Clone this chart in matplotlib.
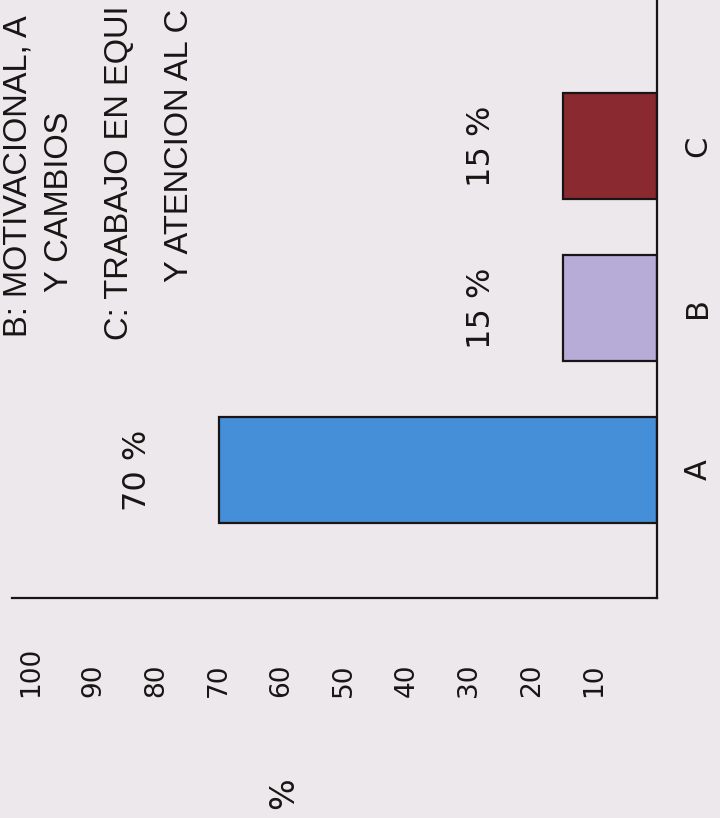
import matplotlib
matplotlib.use("Agg")
import matplotlib.pyplot as plt

# data (the scanned chart is rotated 90 degrees, so it is drawn as barh)
categories = ["A", "B", "C"]
values = [70, 15, 15]
colors = ["#458ed8", "#b7acd8", "#8a2a30"]
ticks = [10, 20, 30, 40, 50, 60, 70, 80, 90, 100]
# only the part of each legend line that the scan shows
legend_lines = ["B: MOTIVACIONAL, A", "Y CAMBIOS",
                "C: TRABAJO EN EQUI", "Y ATENCION AL C"]

bg = "#ece8eb"
ink = "#1a1414"
W, H = 720, 818

fig = plt.figure(figsize=(7.2, 8.18), dpi=100, facecolor=bg)
ax = fig.add_axes([12 / W, 1 - 598 / H, (657 - 12) / W, 598 / H])
ax.set_facecolor(bg)

pos = list(range(len(categories)))
ax.barh(pos, values, height=0.655, color=colors, edgecolor=ink, linewidth=1.6)

ax.set_xlim(103, 0)
ax.set_ylim(-0.79, 2.90)

for s in ["top", "left"]:
    ax.spines[s].set_visible(False)
for s in ["bottom", "right"]:
    ax.spines[s].set_linewidth(1.6)
    ax.spines[s].set_color(ink)

ax.set_xticks(ticks)
ax.set_xticklabels([str(t) for t in ticks], rotation=90, fontsize=19,
                   va="bottom", ha="center", color=ink)
ax.tick_params(axis="x", length=0, pad=71)

ax.yaxis.tick_right()
ax.set_yticks(pos)
ax.set_yticklabels(categories, rotation=90, fontsize=22, color=ink)
ax.tick_params(axis="y", length=0, pad=19)
for lab in ax.get_yticklabels():
    lab.set_va("center")

for i, v in enumerate(values):
    ax.text(v + 13, i, f"{v} %", rotation=90, ha="center", va="center",
            fontsize=23, color=ink)

ax.set_xlabel("%", rotation=90, fontsize=24, color=ink, va="center")
ax.xaxis.set_label_coords((284 - 12) / 645, -(793 - 598) / 598)

# legend text at the top left of the scan
lx = [18, 60, 120, 180]
ly = [337, 292, 340, 282]
for t, x, y in zip(legend_lines, lx, ly):
    fig.text(x / W, 1 - y / H, t, rotation=90, ha="center", va="bottom",
             fontsize=23.5, family="Liberation Sans", color=ink)

fig.savefig("out.png", dpi=100, facecolor=bg)
